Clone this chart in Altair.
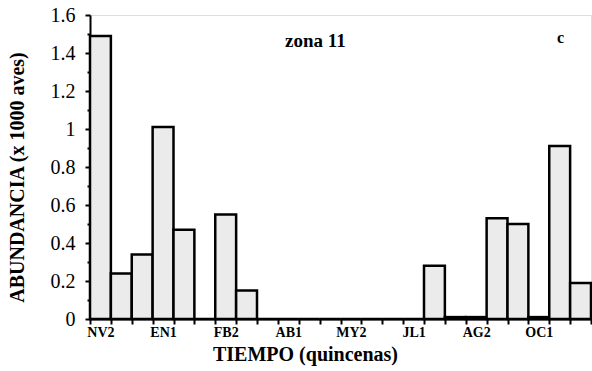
import altair as alt
import pandas as pd

quincenas = ["NV2", "DC1", "DC2", "EN1", "EN2", "FB1", "FB2", "MR1", "MR2", "AB1",
             "AB2", "MY1", "MY2", "JN1", "JN2", "JL1", "JL2", "AG1", "AG2", "SP1",
             "SP2", "OC1", "OC2", "NV1"]
abundancia = [1.49, 0.24, 0.34, 1.01, 0.47, 0.0, 0.55, 0.15, 0.0, 0.0,
              0.0, 0.0, 0.0, 0.0, 0.0, 0.0, 0.28, 0.01, 0.01, 0.53,
              0.50, 0.01, 0.91, 0.19]
shown_labels = ["NV2", "EN1", "FB2", "AB1", "MY2", "JL1", "AG2", "OC1"]
y_ticks = [round(i * 0.1, 1) for i in range(17)]

df = pd.DataFrame({"q": quincenas, "a": abundancia})

FONT = "Liberation Serif"
lab_list = "[" + ",".join("'%s'" % s for s in shown_labels) + "]"

bars = alt.Chart(df).mark_bar(
    fill="#ebebeb", stroke="black", strokeWidth=2.5
).encode(
    x=alt.X("q:N", sort=quincenas,
            scale=alt.Scale(paddingInner=0, paddingOuter=0),
            axis=alt.Axis(title="TIEMPO (quincenas)", labelAngle=0,
                          labelExpr="indexof(%s, datum.value) >= 0 ? datum.value : ''" % lab_list,
                          tickBand="extent", tickSize=5, tickWidth=2, tickColor="black",
                          domainColor="black", domainWidth=2,
                          labelFont=FONT, labelFontSize=14, labelFontWeight="bold",
                          labelColor="black", labelPadding=1,
                          titleFont=FONT, titleFontSize=20, titleFontWeight="bold",
                          titleColor="black", titleX=215, titleY=41,
                          titleBaseline="alphabetic")),
    y=alt.Y("a:Q", scale=alt.Scale(domain=[0, 1.6], nice=False),
            axis=alt.Axis(title="ABUNDANCIA (x 1000 aves)", values=y_ticks,
                          labelExpr="round(datum.value*10) % 2 == 0 ? format(datum.value, '~g') : ''",
                          tickSize={"condition": {"test": "round(datum.value*10) % 2 == 0", "value": 5}, "value": 3},
                          tickWidth=2, tickColor="black",
                          domainColor="black", domainWidth=2, grid=False,
                          labelFont=FONT, labelFontSize=20, labelColor="black",
                          labelPadding=10,
                          titleFont=FONT, titleFontSize=20, titleFontWeight="bold",
                          titleColor="black", titleX=-67, titleY=162,
                          titleBaseline="alphabetic")),
)

zona = alt.Chart(pd.DataFrame({"t": ["zona 11"]})).mark_text(
    font=FONT, fontSize=19, fontWeight="bold", align="left", baseline="alphabetic", color="black"
).encode(x=alt.value(195), y=alt.value(32), text="t:N")

letra = alt.Chart(pd.DataFrame({"t": ["c"]})).mark_text(
    font=FONT, fontSize=16, fontWeight="bold", align="left", baseline="alphabetic", color="black"
).encode(x=alt.value(467), y=alt.value(28), text="t:N")

chart = alt.layer(bars, zona, letra).properties(
    width=501, height=304,
    autosize=alt.AutoSizeParams(type="none"),
    padding={"left": 90, "top": 15, "right": 1, "bottom": 52},
).configure_view(stroke="black", strokeWidth=2).configure(background="white")

chart.save("out.html", embed_options={"renderer": "svg", "actions": False})
